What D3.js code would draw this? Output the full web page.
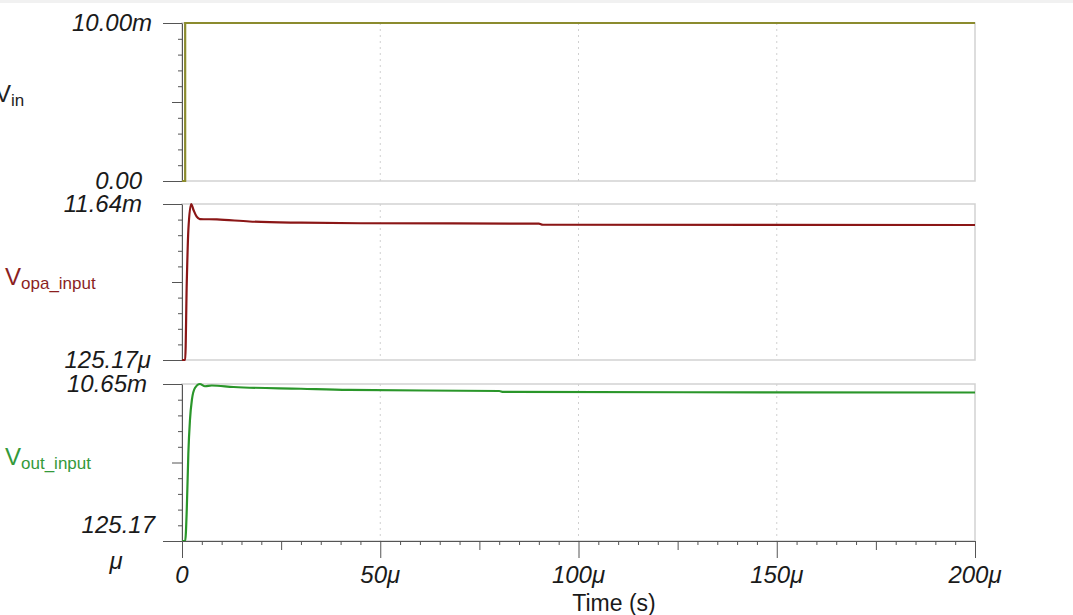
<!DOCTYPE html>
<head>
	<meta charset="utf-8">
	<title>Transient response</title>
	<script src="https://d3js.org/d3.v7.min.js"></script>
	<style>
	body { margin:0; background:#fff; }
	.chartContainer { width:1073px; height:615px; }
	text { font-family:"Liberation Sans", Arial, sans-serif; }
	.ticklabel { font-size:24px; font-style:italic; fill:#1a1a1a; }
	.axis path, .axis line { stroke:#555; }
	.frame { fill:none; stroke:#d2d2d2; stroke-width:1.5px; }
	.grid { stroke:#d0d0d0; stroke-dasharray:2,4; }
	.trace { fill:none; stroke-width:2.2px; }
	</style>
</head>
<body>
<div class="chartContainer"></div>
<script>
// time in microseconds, voltages in mV
var timeTicks=[0,50,100,150,200];
var timeTickLabels=["0","50\u03bc","100\u03bc","150\u03bc","200\u03bc"];

var vinT=[0,0.8,0.8,200];
var vinV=[0,0,10,10];

var vopaT=[0,0.8,1.2,1.6,2.3,2.9,3.7,4.5,8.8,17,30,45,90,91,200];
var vopaV=[0.125,0.125,5.8,9.7,11.64,11.2,10.7,10.53,10.5,10.35,10.26,10.22,10.19,10.11,10.09];

var voutT=[0,0.8,1.2,1.6,2.0,2.5,3.3,4.5,5.8,7.5,13,30,42,80,81,200];
var voutV=[0.125,0.125,2.2,6.0,8.2,9.6,10.4,10.65,10.5,10.55,10.45,10.33,10.25,10.18,10.12,10.08];

var panelRanges=[[0,10],[0.12517,11.64],[0.12517,10.65]];
var panelTopLabels=["10.00m","11.64m","10.65m"];
var panelBottomLabels=["0.00","125.17\u03bc","125.17"];
var seriesNames=["in","opa_input","out_input"];
var seriesColors=["#8b8b2e","#8b1616","#2a962a"];
var labelColors=["#222","#8b1f1f","#34993a"];

var series=[
	d3.zip(vinT,vinV),
	d3.zip(vopaT,vopaV),
	d3.zip(voutT,voutV)
];

// layout
var W=1073,H=615;
var panels=[{top:23,bottom:181},{top:204,bottom:360},{top:384,bottom:541}];
var topLabelRight=[152,142,147];
var bottomLabelRight=[142,151,155];
var nameX=[-5,5,5], nameY=[102,285,465];

var svg=d3.select(".chartContainer").append("svg")
	.attr("width",W).attr("height",H);

svg.append("rect").attr("x",0).attr("y",0).attr("width",W).attr("height",3).attr("fill","#f1f1f1");

var x=d3.scaleLinear().domain([0,200]).range([182,975]);

panels.forEach(function(p,i){
	var y=d3.scaleLinear().domain(panelRanges[i]).range([p.bottom,p.top]);
	var g=svg.append("g");

	g.append("rect").attr("class","frame")
		.attr("x",x(0)).attr("y",p.top)
		.attr("width",x(200)-x(0)).attr("height",p.bottom-p.top);

	g.selectAll(".grid").data(timeTicks.slice(1,4)).enter()
		.append("line").attr("class","grid")
		.attr("x1",function(d){return x(d);}).attr("x2",function(d){return x(d);})
		.attr("y1",p.top).attr("y2",p.bottom);

	var d0=panelRanges[i][0], d1=panelRanges[i][1];
	var yticks=d3.range(11).map(function(k){return d0+k*(d1-d0)/10;});
	var ax=g.append("g").attr("class","axis")
		.attr("transform","translate("+x(0)+",0)")
		.call(d3.axisLeft(y).tickValues(yticks).tickSize(4).tickSizeOuter(0).tickFormat(""));
	ax.selectAll(".tick line").attr("x2",function(d,k){
		return (k===0||k===10)?-19:(k===5?-10:-4);
	});

	var line=d3.line()
		.x(function(d){return x(d[0]);})
		.y(function(d){return y(d[1]);})
		.curve(i===0?d3.curveLinear:d3.curveMonotoneX);
	g.append("path").attr("class","trace")
		.attr("stroke",seriesColors[i])
		.attr("d",line(series[i]));

	g.append("text").attr("class","ticklabel")
		.attr("x",topLabelRight[i]).attr("y",y(d1))
		.attr("dy","0.35em").attr("text-anchor","end")
		.text(panelTopLabels[i]);

	if(i<2){
		g.append("text").attr("class","ticklabel")
			.attr("x",bottomLabelRight[i]).attr("y",y(d0))
			.attr("dy","0.35em").attr("text-anchor","end")
			.text(panelBottomLabels[i]);
	} else {
		g.append("text").attr("class","ticklabel")
			.attr("x",bottomLabelRight[i]).attr("y",y(d0)-16)
			.attr("dy","0.35em").attr("text-anchor","end")
			.text(panelBottomLabels[i]);
		g.append("text").attr("class","ticklabel")
			.attr("x",116).attr("y",y(d0)+20)
			.attr("dy","0.35em").attr("text-anchor","middle")
			.text("\u03bc");
	}

	var nm=g.append("text").attr("x",nameX[i]).attr("y",nameY[i])
		.attr("fill",labelColors[i]).style("font-size","24px");
	nm.append("tspan").text("V");
	nm.append("tspan").attr("dy",4).style("font-size","17px").text(seriesNames[i]);
});

// time axis
var tickVals=d3.range(0,201,5);
var xa=svg.append("g").attr("class","axis")
	.attr("transform","translate(0,"+panels[2].bottom+")")
	.call(d3.axisBottom(x).tickValues(tickVals).tickSize(4).tickSizeOuter(0).tickFormat(""));
xa.selectAll(".tick line").attr("y2",function(d){
	return d%50===0?17:(d%25===0?9:4);
});

svg.selectAll(".xlabel").data(timeTicks).enter()
	.append("text").attr("class","ticklabel")
	.attr("x",function(d){return x(d);})
	.attr("y",575).attr("dy","0.35em")
	.attr("text-anchor","middle")
	.text(function(d,k){return timeTickLabels[k];});

svg.append("text").attr("x",614).attr("y",611)
	.attr("text-anchor","middle").style("font-size","23px").attr("fill","#1a1a1a")
	.text("Time (s)");
</script>
</body>
</html>
